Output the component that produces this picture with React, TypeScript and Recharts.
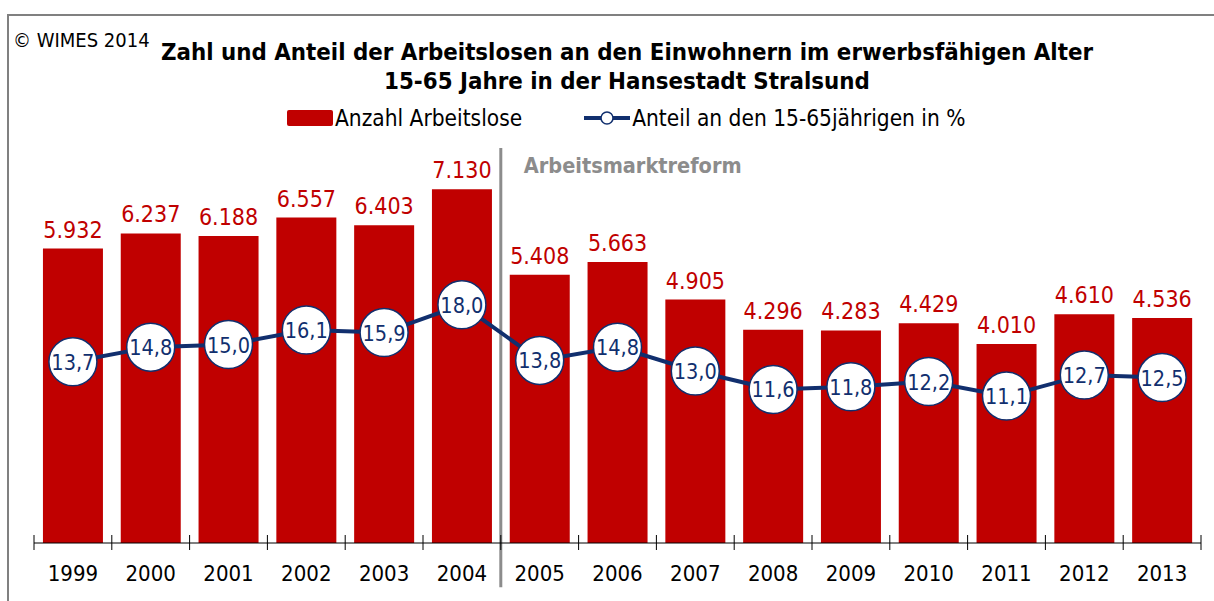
import React from "react";
import {
  Bar,
  ComposedChart,
  LabelList,
  Legend,
  Line,
  ReferenceLine,
  XAxis,
  YAxis,
} from "recharts";

const YEARS = ["1999", "2000", "2001", "2002", "2003", "2004", "2005", "2006", "2007", "2008", "2009", "2010", "2011", "2012", "2013"];
const ARBEITSLOSE = [5932, 6237, 6188, 6557, 6403, 7130, 5408, 5663, 4905, 4296, 4283, 4429, 4010, 4610, 4536];
const ANTEIL = [13.7, 14.8, 15.0, 16.1, 15.9, 18.0, 13.8, 14.8, 13.0, 11.6, 11.8, 12.2, 11.1, 12.7, 12.5];

const REFORM_YEAR = "2005";

const RED = "#c00000";
const NAVY = "#112f6e";
const GREY = "#8c8c8c";
const FONT = "'DejaVu Sans Condensed', 'DejaVu Sans', sans-serif";

const data = YEARS.map((year, i) => ({
  year,
  anzahl: ARBEITSLOSE[i],
  anteil: ANTEIL[i],
}));

const fmtThousand = (v: number) => String(v).replace(/\B(?=(\d{3})+(?!\d))/g, ".");
const fmtPct = (v: number) => v.toFixed(1).replace(".", ",");

// tick marks sit on the band borders and cross the axis line
const YearTick = (props: any) => {
  const { x, y, payload, index, visibleTicksCount } = props;
  const half = payload.offset || 0;
  const last = index === visibleTicksCount - 1;
  return (
    <g>
      <line x1={x - half} x2={x - half} y1={y - 8} y2={y + 7} stroke="#000" strokeWidth={1} />
      {last && <line x1={x + half} x2={x + half} y1={y - 8} y2={y + 7} stroke="#000" strokeWidth={1} />}
      <text x={x} y={y + 38} textAnchor="middle" fill="#000" fontSize={22} fontFamily={FONT}>
        {payload.value}
      </text>
    </g>
  );
};

const PctDot = (props: any) => {
  const { cx, cy } = props;
  return <circle cx={cx} cy={cy} r={24} fill="#fff" stroke={NAVY} strokeWidth={1.5} />;
};

const PctLabel = (props: any) => {
  const { x, y, value } = props;
  return (
    <text x={x} y={y} dy={8} textAnchor="middle" fill={NAVY} fontSize={21.5} fontFamily={FONT}>
      {fmtPct(value)}
    </text>
  );
};

const LegendContent = (props: any) => {
  const items = [...(props.payload || [])].sort((a: any, b: any) => (a.type === "rect" ? -1 : 0) - (b.type === "rect" ? -1 : 0));
  return (
    <div style={{ display: "flex", alignItems: "center", fontFamily: FONT, fontSize: 22.5, color: "#000" }}>
      {items.map((p: any) => (
        <div key={p.value} style={{ display: "flex", alignItems: "center", marginRight: 62 }}>
          {p.type === "rect" ? (
            <svg width={48} height={18}>
              <rect x={0} y={1} width={46} height={16} rx={2} fill={RED} />
            </svg>
          ) : (
            <svg width={48} height={18}>
              <line x1={0} x2={46} y1={9} y2={9} stroke={NAVY} strokeWidth={4} />
              <circle cx={23} cy={9} r={6} fill="#fff" stroke={NAVY} strokeWidth={1.5} />
            </svg>
          )}
          <span>{p.value}</span>
        </div>
      ))}
    </div>
  );
};

const ReformLabel = (props: any) => {
  const { viewBox } = props;
  return (
    <text x={viewBox.x + 23} y={viewBox.y + 25} fill={GREY} fontSize={21.5} fontWeight="bold" fontFamily={FONT}>
      Arbeitsmarktreform
    </text>
  );
};

export default function App() {
  return (
    <div style={{ position: "absolute", left: 0, top: 0, width: 1214, height: 601, background: "#fff" }}>
      <div
        style={{
          position: "absolute",
          left: 7,
          top: 14,
          right: 0,
          bottom: 0,
          borderLeft: "2px solid #808080",
          borderTop: "2px solid #808080",
        }}
      />
      <div style={{ position: "absolute", left: 13, top: 29, fontFamily: FONT, fontSize: 20, lineHeight: "22px", color: "#000" }}>
        © WIMES 2014
      </div>
      <div
        style={{
          position: "absolute",
          left: 127,
          width: 1000,
          top: 38,
          textAlign: "center",
          fontFamily: FONT,
          fontWeight: "bold",
          fontSize: 23.8,
          lineHeight: "29px",
          color: "#000",
        }}
      >
        Zahl und Anteil der Arbeitslosen an den Einwohnern im erwerbsfähigen Alter
        <br />
        15-65 Jahre in der Hansestadt Stralsund
      </div>
      <ComposedChart
        width={1214}
        height={601}
        data={data}
        margin={{ top: 146, right: 13, bottom: 0, left: 34 }}
        barCategoryGap="11.5%"
      >
        <XAxis
          dataKey="year"
          height={58}
          axisLine={{ stroke: "#000", strokeWidth: 1 }}
          tickLine={false}
          tickSize={0}
          tickMargin={0}
          tick={<YearTick />}
          interval={0}
        />
        <YAxis yAxisId="left" domain={[0, 8000]} hide />
        <YAxis yAxisId="right" orientation="right" domain={[0, 30]} hide />
        <Legend
          layout="horizontal"
          verticalAlign="middle"
          align="center"
          wrapperStyle={{ top: 105, left: 287, width: 800 }}
          content={<LegendContent />}
        />
        <ReferenceLine
          yAxisId="left"
          position="start"
          segment={[
            { x: REFORM_YEAR, y: 7960 },
            { x: REFORM_YEAR, y: -890 },
          ]}
          ifOverflow="visible"
          stroke={GREY}
          strokeWidth={3}
          label={<ReformLabel />}
        />
        <Bar yAxisId="left" dataKey="anzahl" name="Anzahl Arbeitslose" fill={RED} isAnimationActive={false} legendType="rect">
          <LabelList
            dataKey="anzahl"
            position="top"
            offset={11}
            fill={RED}
            fontSize={23}
            fontFamily={FONT}
            formatter={(v: any) => fmtThousand(Number(v))}
          />
        </Bar>
        <Line
          yAxisId="right"
          dataKey="anteil"
          name="Anteil an den 15-65jährigen in %"
          stroke={NAVY}
          strokeWidth={4}
          dot={<PctDot />}
          activeDot={false}
          isAnimationActive={false}
          legendType="line"
        >
          <LabelList dataKey="anteil" content={<PctLabel />} />
        </Line>
      </ComposedChart>
    </div>
  );
}
